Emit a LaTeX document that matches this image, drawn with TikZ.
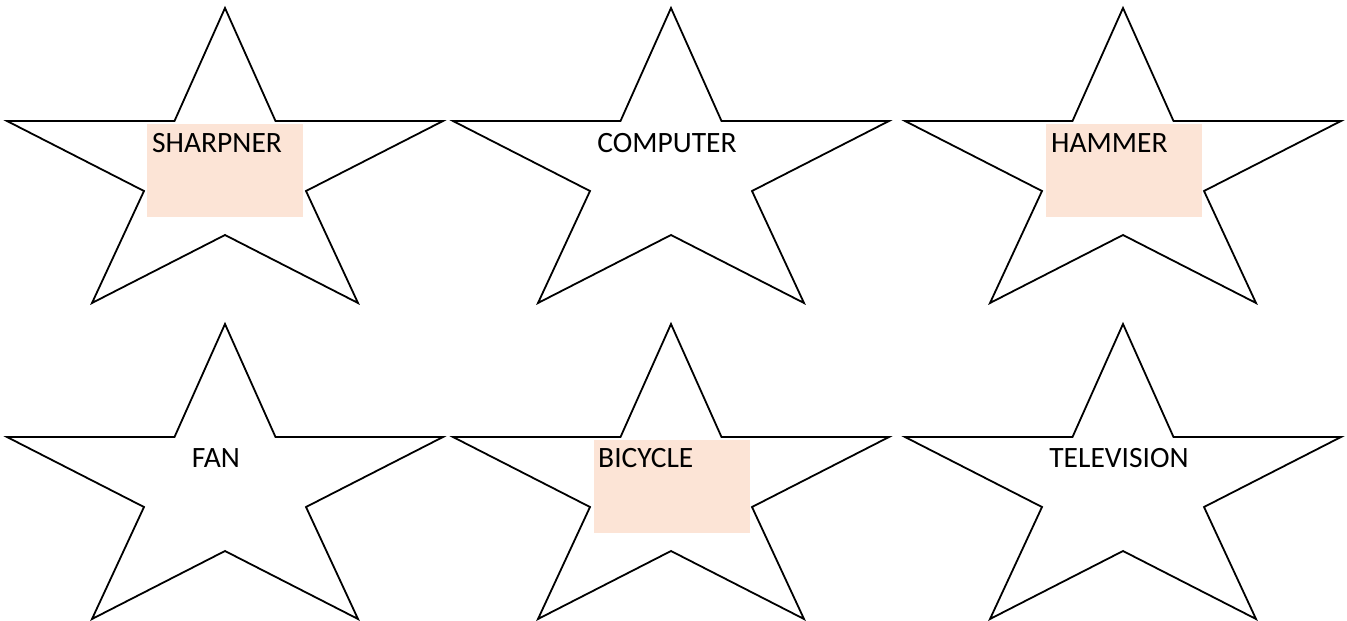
\documentclass[tikz,border=0pt]{standalone}
\usepackage{fontspec}
\setmainfont{Carlito}
\usetikzlibrary{positioning}
\definecolor{tag-peach}{HTML}{FCE4D6}

\begin{document}
\begin{tikzpicture}[x=1pt, y=-1pt,
    wstar/.pic={\draw[line width=1.8pt, line join=miter, fill=white]
        (0,0) -- (50.5,113) -- (218,113) -- (81,183) -- (133,295) -- (0,227)
        -- (-133,295) -- (-81,183) -- (-218,113) -- (-50.5,113) -- cycle;},
    tag/.style={fill=tag-peach, inner sep=0pt, anchor=north west,
                minimum width=156pt, minimum height=93pt},
    word/.style={font=\fontsize{29.5}{34}\selectfont, inner sep=0pt},
]
    \useasboundingbox (0,0) rectangle (1347,621);

    % Stars
    \foreach \cx/\ty/\nm in {225/8/sa, 671/8/sb, 1123/8/sc,
                             225/324/sd, 671/324/se, 1123/324/sf}
        \pic (\nm) at (\cx,\ty) {wstar};

    % Shaded boxes
    \node[tag] (sharpbox) at (147,124) {};
    \node[tag] (hammerbox) at (1046,124) {};
    \node[tag] (bikebox) at (594,440) {};

    % Labels
    \node[word, anchor=base west] (sharp) at (152,152) {SHARPNER};
    \node[word, anchor=base] (comp) at (667,152) {COMPUTER};
    \node[word, anchor=base west] (hammer) at (1051,152) {HAMMER};
    \node[word, anchor=base] (fan) at (216,467) {FAN};
    \node[word, anchor=base west] (bike) at (598,467) {BICYCLE};
    \node[word, anchor=base] (tv) at (1119,467) {TELEVISION};
\end{tikzpicture}
\end{document}
